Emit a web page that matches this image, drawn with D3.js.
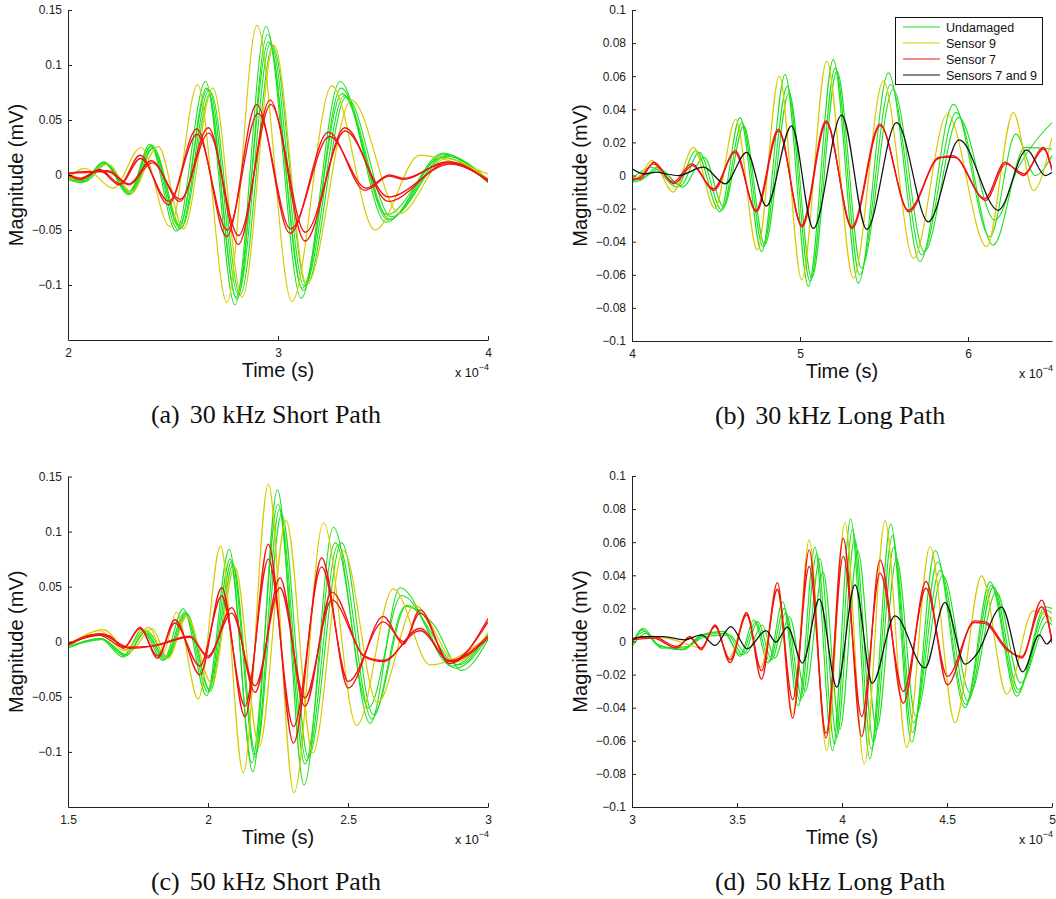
<!DOCTYPE html>
<html>
<head>
<meta charset="utf-8">
<script src="https://cdn.jsdelivr.net/npm/d3@7"></script>
<style>
  body { margin: 0; background: #fff; }
  svg { display: block; }
  .tick text { font-family: "Liberation Sans", Arial, sans-serif; font-size: 12px; fill: #222; }
  .axis path, .axis line { stroke: #222; }
  .lbl { font-family: "Liberation Sans", Arial, sans-serif; fill: #111; }
  .cap { font-family: "Liberation Serif", "Times New Roman", serif; fill: #111; }
</style>
</head>
<body>
<svg id="fig" width="1056" height="899"></svg>
<script>
// Lamb-wave responses: time in units of 1e-4 s, magnitude in mV.
// Each trace is a list of [time, magnitude] turning points of the recorded waveform.

// ---------- (a) 30 kHz short path ----------
const a_undamaged = [
  [[2.0,-0.004],[2.065,-0.007],[2.17,0.012],[2.29,-0.018],[2.39,0.028],[2.515,-0.051],[2.655,0.085],[2.795,-0.118],[2.943,0.135],[3.11,-0.112],[3.295,0.085],[3.515,-0.043],[3.785,0.020],[3.93,0.004],[4.0,-0.007]],
  [[2.0,-0.002],[2.07,-0.006],[2.175,0.011],[2.295,-0.017],[2.395,0.026],[2.525,-0.050],[2.665,0.078],[2.80,-0.111],[2.955,0.121],[3.115,-0.103],[3.305,0.074],[3.525,-0.041],[3.79,0.019],[4.0,-0.005]],
  [[2.0,-0.003],[2.075,-0.005],[2.18,0.010],[2.30,-0.017],[2.40,0.024],[2.535,-0.049],[2.672,0.077],[2.81,-0.108],[2.965,0.120],[3.125,-0.101],[3.315,0.072],[3.53,-0.040],[3.80,0.018],[4.0,-0.004]],
  [[2.0,-0.004],[2.08,-0.006],[2.185,0.010],[2.305,-0.016],[2.405,0.025],[2.54,-0.048],[2.68,0.075],[2.82,-0.109],[2.975,0.117],[3.135,-0.100],[3.325,0.071],[3.54,-0.038],[3.805,0.017],[4.0,-0.006]],
  [[2.0,-0.002],[2.07,-0.004],[2.17,0.011],[2.29,-0.015],[2.40,0.027],[2.53,-0.046],[2.66,0.079],[2.805,-0.113],[2.95,0.128],[3.12,-0.105],[3.30,0.079],[3.52,-0.036],[3.78,0.016],[4.0,-0.005]]
];
const a_sensor9 = [
  [[2.0,-0.003],[2.08,0.006],[2.215,-0.012],[2.348,0.025],[2.486,-0.047],[2.617,0.082],[2.757,-0.116],[2.90,0.136],[3.066,-0.115],[3.256,0.081],[3.462,-0.050],[3.676,0.018],[3.85,0.011],[4.0,0.001]],
  [[2.0,-0.004],[2.09,-0.001],[2.19,0.010],[2.30,-0.016],[2.43,0.026],[2.55,-0.049],[2.69,0.079],[2.83,-0.111],[2.981,0.118],[3.137,-0.099],[3.35,0.068],[3.58,-0.035],[3.80,0.015],[4.0,-0.004]]
];
const a_sensor7 = [
  [[2.0,0.000],[2.06,-0.004],[2.15,0.004],[2.245,-0.009],[2.343,0.018],[2.478,-0.027],[2.613,0.042],[2.756,-0.056],[2.898,0.064],[3.057,-0.053],[3.24,0.039],[3.414,-0.014],[3.53,-0.001],[3.60,-0.004],[3.80,0.012],[4.0,-0.005]],
  [[2.0,0.001],[2.06,-0.003],[2.15,0.005],[2.25,-0.008],[2.345,0.015],[2.48,-0.024],[2.615,0.037],[2.758,-0.050],[2.905,0.056],[3.06,-0.049],[3.245,0.035],[3.42,-0.012],[3.53,0.000],[3.60,-0.003],[3.80,0.011],[4.0,-0.004]],
  [[2.0,0.002],[2.07,0.002],[2.19,0.004],[2.29,-0.008],[2.398,0.013],[2.533,-0.024],[2.668,0.043],[2.811,-0.063],[2.962,0.068],[3.129,-0.060],[3.319,0.043],[3.525,-0.024],[3.82,0.012],[4.0,-0.006]],
  [[2.0,0.001],[2.07,0.003],[2.19,0.003],[2.29,-0.009],[2.40,0.011],[2.535,-0.022],[2.67,0.038],[2.812,-0.055],[2.966,0.064],[3.13,-0.052],[3.32,0.040],[3.525,-0.020],[3.82,0.010],[4.0,-0.005]]
];

// ---------- (b) 30 kHz long path ----------
const b_undamaged = [
  [[4.0,-0.002],[4.12,0.005],[4.266,-0.007],[4.38,0.015],[4.524,-0.022],[4.643,0.035],[4.772,-0.046],[4.911,0.061],[5.05,-0.067],[5.198,0.070],[5.347,-0.065],[5.526,0.062],[5.714,-0.052],[5.913,0.043],[6.13,-0.037],[6.285,0.025],[6.40,0.000],[6.5,0.012]],
  [[4.0,-0.004],[4.05,-0.003],[4.15,0.005],[4.29,-0.006],[4.40,0.014],[4.535,-0.021],[4.655,0.032],[4.78,-0.043],[4.925,0.054],[5.06,-0.064],[5.21,0.065],[5.355,-0.060],[5.54,0.055],[5.725,-0.048],[5.93,0.038],[6.15,-0.042],[6.34,0.017],[6.5,0.016]],
  [[4.0,-0.003],[4.06,-0.002],[4.16,0.004],[4.30,-0.007],[4.43,0.011],[4.545,-0.019],[4.665,0.030],[4.79,-0.042],[4.935,0.050],[5.07,-0.062],[5.22,0.063],[5.365,-0.056],[5.555,0.052],[5.74,-0.046],[5.945,0.035],[6.16,-0.027],[6.30,0.005],[6.5,0.032]]
];
const b_sensor9 = [
  [[4.0,-0.002],[4.05,0.000],[4.117,0.009],[4.246,-0.010],[4.365,0.017],[4.494,-0.020],[4.617,0.034],[4.746,-0.045],[4.877,0.060],[5.01,-0.063],[5.159,0.069],[5.317,-0.062],[5.496,0.057],[5.675,-0.050],[5.877,0.037],[6.111,-0.043],[6.27,0.038],[6.389,-0.009],[6.5,0.023]]
];
const b_sensor7 = [
  [[4.0,-0.003],[4.05,-0.001],[4.127,0.007],[4.246,-0.004],[4.355,0.007],[4.484,-0.008],[4.613,0.014],[4.738,-0.021],[4.871,0.028],[5.01,-0.030],[5.155,0.033],[5.308,-0.031],[5.476,0.031],[5.645,-0.021],[5.82,0.010],[5.91,0.012],[6.10,-0.014],[6.22,0.008],[6.33,0.000],[6.448,0.017],[6.5,0.003]],
  [[4.0,-0.002],[4.05,-0.002],[4.13,0.008],[4.25,-0.005],[4.36,0.006],[4.488,-0.009],[4.615,0.015],[4.74,-0.022],[4.873,0.027],[5.012,-0.031],[5.157,0.032],[5.31,-0.032],[5.478,0.030],[5.648,-0.022],[5.83,0.011],[5.92,0.011],[6.105,-0.015],[6.225,0.007],[6.335,0.001],[6.45,0.016],[6.5,0.004]]
];
const b_sensors7and9 = [
  [[4.0,0.004],[4.07,0.001],[4.15,0.002],[4.20,0.001],[4.276,0.000],[4.425,0.005],[4.554,-0.005],[4.683,0.014],[4.80,-0.0185],[4.95,0.030],[5.079,-0.032],[5.248,0.0365],[5.397,-0.0325],[5.575,0.032],[5.764,-0.028],[5.948,0.0215],[6.18,-0.021],[6.35,0.0155],[6.46,0.000],[6.5,0.002]]
];

// ---------- (c) 50 kHz short path ----------
const c_undamaged = [
  [[1.5,-0.005],[1.614,0.003],[1.698,-0.014],[1.763,0.011],[1.84,-0.017],[1.912,0.030],[1.995,-0.049],[2.076,0.084],[2.16,-0.118],[2.248,0.138],[2.343,-0.130],[2.448,0.104],[2.579,-0.074],[2.686,0.049],[2.87,-0.022],[3.0,0.006]],
  [[1.5,-0.004],[1.62,0.002],[1.70,-0.012],[1.77,0.010],[1.845,-0.016],[1.918,0.027],[2.0,-0.046],[2.079,0.075],[2.156,-0.110],[2.25,0.125],[2.346,-0.111],[2.454,0.090],[2.573,-0.060],[2.692,0.042],[2.885,-0.024],[3.0,0.004]],
  [[1.5,-0.006],[1.62,0.003],[1.705,-0.013],[1.775,0.009],[1.85,-0.015],[1.922,0.026],[2.005,-0.043],[2.085,0.073],[2.168,-0.105],[2.255,0.120],[2.352,-0.108],[2.465,0.088],[2.585,-0.070],[2.704,0.032],[2.805,0.016],[2.906,-0.026],[3.0,0.002]],
  [[1.5,-0.005],[1.625,0.002],[1.71,-0.012],[1.78,0.010],[1.855,-0.014],[1.925,0.025],[2.008,-0.045],[2.09,0.070],[2.17,-0.102],[2.263,0.116],[2.358,-0.105],[2.477,0.090],[2.59,-0.066],[2.71,0.033],[2.895,-0.021],[3.0,0.008]]
];
const c_sensor9 = [
  [[1.5,-0.004],[1.615,0.010],[1.70,-0.008],[1.79,0.013],[1.84,-0.010],[1.888,0.027],[1.965,-0.052],[2.045,0.087],[2.126,-0.119],[2.2155,0.143],[2.307,-0.137],[2.412,0.108],[2.531,-0.076],[2.662,0.048],[2.793,-0.021],[3.0,0.004]],
  [[1.5,-0.005],[1.626,0.011],[1.72,-0.009],[1.80,0.012],[1.858,-0.015],[1.924,0.023],[2.013,-0.038],[2.096,0.068],[2.183,-0.095],[2.279,0.110],[2.374,-0.101],[2.483,0.083],[2.605,-0.055],[2.739,0.033],[2.888,-0.018],[3.0,0.008]]
];
const c_sensor7 = [
  [[1.5,-0.002],[1.61,0.007],[1.65,0.005],[1.698,-0.006],[1.757,0.013],[1.82,-0.015],[1.882,0.020],[1.971,-0.030],[2.049,0.049],[2.132,-0.068],[2.2155,0.0885],[2.305,-0.092],[2.406,0.076],[2.501,-0.042],[2.626,0.023],[2.698,-0.002],[2.757,0.029],[2.864,-0.020],[3.0,0.021]],
  [[1.5,-0.003],[1.61,0.006],[1.70,-0.005],[1.757,0.012],[1.82,-0.013],[1.882,0.017],[1.971,-0.022],[2.049,0.0415],[2.132,-0.0585],[2.2155,0.075],[2.305,-0.077],[2.406,0.068],[2.501,-0.036],[2.626,0.018],[2.70,0.000],[2.757,0.026],[2.864,-0.018],[3.0,0.018]],
  [[1.5,-0.003],[1.62,0.007],[1.72,-0.006],[1.80,-0.004],[1.936,0.005],[2.0,-0.0145],[2.085,0.031],[2.168,-0.046],[2.257,0.058],[2.346,-0.0585],[2.442,0.045],[2.56,-0.014],[2.626,-0.018],[2.757,0.012],[2.864,-0.018],[3.0,0.003]],
  [[1.5,-0.002],[1.62,0.006],[1.72,-0.005],[1.80,-0.004],[1.936,0.004],[2.0,-0.013],[2.085,0.026],[2.168,-0.040],[2.257,0.049],[2.346,-0.051],[2.442,0.038],[2.56,-0.013],[2.626,-0.017],[2.757,0.010],[2.864,-0.017],[3.0,0.005]]
];

// ---------- (d) 50 kHz long path ----------
const d_undamaged = [
  [[3.0,-0.002],[3.054,0.008],[3.125,-0.002],[3.244,-0.005],[3.33,0.003],[3.44,0.006],[3.514,-0.009],[3.58,0.013],[3.649,-0.013],[3.718,0.024],[3.792,-0.039],[3.871,0.057],[3.955,-0.066],[4.041,0.074],[4.133,-0.071],[4.232,0.071],[4.332,-0.061],[4.443,0.055],[4.586,-0.040],[4.705,0.036],[4.832,-0.033],[4.967,0.021],[5.0,0.020]],
  [[3.0,0.000],[3.06,0.006],[3.13,-0.003],[3.25,-0.004],[3.34,0.004],[3.45,0.005],[3.53,-0.008],[3.60,0.012],[3.665,-0.011],[3.733,0.0175],[3.81,-0.034],[3.895,0.050],[3.975,-0.058],[4.06,0.062],[4.15,-0.061],[4.247,0.057],[4.34,-0.049],[4.467,0.043],[4.60,-0.036],[4.721,0.033],[4.84,-0.029],[4.975,0.016],[5.0,0.012]],
  [[3.0,-0.003],[3.07,0.005],[3.14,-0.004],[3.26,-0.003],[3.35,0.003],[3.46,0.004],[3.545,-0.007],[3.62,0.010],[3.68,-0.010],[3.75,0.015],[3.825,-0.030],[3.91,0.042],[3.99,-0.053],[4.075,0.055],[4.165,-0.053],[4.26,0.050],[4.35,-0.045],[4.48,0.040],[4.61,-0.031],[4.735,0.030],[4.85,-0.025],[4.98,0.012],[5.0,0.010]],
  [[3.0,-0.001],[3.05,0.007],[3.12,-0.002],[3.24,-0.005],[3.33,0.004],[3.43,0.006],[3.52,-0.008],[3.59,0.012],[3.655,-0.012],[3.725,0.020],[3.80,-0.036],[3.88,0.053],[3.965,-0.062],[4.05,0.068],[4.14,-0.065],[4.24,0.064],[4.335,-0.055],[4.455,0.048],[4.59,-0.038],[4.712,0.034],[4.835,-0.031],[4.97,0.019],[5.0,0.017]]
];
const d_sensor9 = [
  [[3.0,0.001],[3.1,0.003],[3.2,0.001],[3.27,-0.002],[3.33,-0.004],[3.395,0.0095],[3.463,-0.0097],[3.546,0.0165],[3.613,-0.0157],[3.692,0.0306],[3.765,-0.044],[3.844,0.0614],[3.927,-0.066],[4.014,0.0719],[4.106,-0.074],[4.205,0.0729],[4.308,-0.064],[4.419,0.0574],[4.538,-0.049],[4.665,0.0397],[4.784,-0.0318],[4.911,0.0185],[5.0,0.014]]
];
const d_sensor7 = [
  [[3.0,0.001],[3.1,0.002],[3.213,-0.004],[3.276,0.003],[3.33,-0.005],[3.395,0.010],[3.467,-0.0127],[3.546,0.0175],[3.617,-0.0228],[3.692,0.0356],[3.765,-0.0463],[3.844,0.0554],[3.924,-0.0584],[4.006,0.0624],[4.094,-0.0574],[4.181,0.0493],[4.292,-0.0373],[4.40,0.0363],[4.502,-0.0262],[4.63,0.0125],[4.68,0.012],[4.784,-0.004],[4.856,-0.010],[4.951,0.025],[5.0,-0.001]],
  [[3.0,0.002],[3.1,0.003],[3.213,-0.003],[3.276,0.002],[3.33,-0.004],[3.395,0.009],[3.467,-0.011],[3.546,0.016],[3.617,-0.0177],[3.692,0.0316],[3.765,-0.0352],[3.844,0.0453],[3.924,-0.0554],[4.006,0.0514],[4.094,-0.0453],[4.181,0.0413],[4.292,-0.0302],[4.40,0.0322],[4.502,-0.0211],[4.63,0.0115],[4.68,0.011],[4.784,-0.005],[4.856,-0.009],[4.951,0.021],[5.0,0.001]]
];
const d_sensors7and9 = [
  [[3.0,0.001],[3.05,0.003],[3.15,0.003],[3.25,0.001],[3.33,0.004],[3.395,-0.0024],[3.471,0.009],[3.549,-0.0044],[3.638,0.0066],[3.685,-0.0004],[3.74,0.0087],[3.812,-0.013],[3.892,0.0256],[3.975,-0.0276],[4.062,0.0342],[4.144,-0.0252],[4.252,0.0155],[4.395,-0.0160],[4.49,0.0236],[4.586,-0.0137],[4.641,-0.0077],[4.76,0.0208],[4.86,-0.0183],[4.94,0.004],[4.975,-0.0015],[5.0,0.002]]
];

// ---------- tick values ----------
const xTicksA = [2, 3, 4];
const xTicksB = [4, 5, 6];
const xTicksC = [1.5, 2, 2.5, 3];
const xTicksD = [3, 3.5, 4, 4.5, 5];
const yTicksShort = [-0.1, -0.05, 0, 0.05, 0.1, 0.15];
const yTicksLong = [-0.1, -0.08, -0.06, -0.04, -0.02, 0, 0.02, 0.04, 0.06, 0.08, 0.1];

const legendLabels = ["Undamaged", "Sensor 9", "Sensor 7", "Sensors 7 and 9"];
const seriesColors = ["#1ee01e", "#d8cb00", "#f21414", "#111111"];

const panels = [
  { x: [2, 4],   y: [-0.15, 0.15], xt: xTicksA, yt: yTicksShort, l: 68,  r: 488,  t: 10,  b: 340,
    series: [a_undamaged, a_sensor9, a_sensor7, []], caption: ["(a)", "30 kHz Short Path"], legend: false },
  { x: [4, 6.5], y: [-0.1, 0.1],   xt: xTicksB, yt: yTicksLong,  l: 632, r: 1052, t: 10,  b: 341,
    series: [b_undamaged, b_sensor9, b_sensor7, b_sensors7and9], caption: ["(b)", "30 kHz Long Path"], legend: true },
  { x: [1.5, 3], y: [-0.15, 0.15], xt: xTicksC, yt: yTicksShort, l: 68,  r: 488,  t: 476.5, b: 807,
    series: [c_undamaged, c_sensor9, c_sensor7, []], caption: ["(c)", "50 kHz Short Path"], legend: false },
  { x: [3, 5],   y: [-0.1, 0.1],   xt: xTicksD, yt: yTicksLong,  l: 632, r: 1052, t: 476, b: 807,
    series: [d_undamaged, d_sensor9, d_sensor7, d_sensors7and9], caption: ["(d)", "50 kHz Long Path"], legend: false }
];

const fmt = d => d === 0 ? "0" : (d < 0 ? "\u2212" : "") + String(Math.abs(d));
const svg = d3.select("#fig");

panels.forEach((p, i) => {
  const x = d3.scaleLinear().domain(p.x).range([p.l, p.r]);
  const y = d3.scaleLinear().domain(p.y).range([p.b, p.t]);
  const g = svg.append("g");

  g.append("clipPath").attr("id", "clip" + i)
    .append("rect").attr("x", p.l).attr("y", p.t).attr("width", p.r - p.l).attr("height", p.b - p.t);

  const line = d3.line().x(d => x(d[0])).y(d => y(d[1])).curve(d3.curveMonotoneX);
  const plot = g.append("g").attr("clip-path", `url(#clip${i})`);
  const widths = [1.1, 1.2, 1.35, 1.25];
  p.series.forEach((group, k) => {
    group.forEach(trace => {
      plot.append("path").datum(trace)
        .attr("d", line).attr("fill", "none")
        .attr("stroke", seriesColors[k]).attr("stroke-width", widths[k])
        .attr("stroke-linejoin", "round");
    });
  });

  g.append("g").attr("class", "axis").attr("transform", `translate(0,${p.b})`)
    .call(d3.axisBottom(x).tickValues(p.xt).tickSize(-4).tickSizeOuter(0).tickPadding(8).tickFormat(fmt));
  g.append("g").attr("class", "axis").attr("transform", `translate(${p.l},0)`)
    .call(d3.axisLeft(y).tickValues(p.yt).tickSize(-4).tickSizeOuter(0).tickPadding(6).tickFormat(fmt));

  const cx = (p.l + p.r) / 2;
  g.append("text").attr("class", "lbl").attr("x", cx).attr("y", p.b + 37)
    .attr("text-anchor", "middle").attr("font-size", 20).text("Time (s)");

  const ex = g.append("text").attr("class", "lbl").attr("x", p.r + 1).attr("y", p.b + 37)
    .attr("text-anchor", "end").attr("font-size", 12.5);
  ex.append("tspan").text("x 10");
  ex.append("tspan").attr("dy", -7).attr("font-size", 9).text("\u22124");

  const ym = (p.t + p.b) / 2;
  g.append("text").attr("class", "lbl")
    .attr("transform", `translate(${p.l - 45},${ym}) rotate(-90)`)
    .attr("text-anchor", "middle").attr("font-size", 20).text("Magnitude (mV)");

  const cap = g.append("text").attr("class", "cap")
    .attr("x", cx - 12).attr("y", p.b + 83).attr("text-anchor", "middle").attr("font-size", 26);
  cap.append("tspan").text(p.caption[0]);
  cap.append("tspan").attr("dx", 10).text(p.caption[1]);

  if (p.legend) {
    const lg = g.append("g");
    lg.append("rect").attr("x", 895.5).attr("y", 17.5).attr("width", 147).attr("height", 67)
      .attr("fill", "#fff").attr("stroke", "#111").attr("stroke-width", 1);
    legendLabels.forEach((lab, k) => {
      const yy = 27 + k * 16;
      lg.append("line").attr("x1", 903).attr("x2", 940).attr("y1", yy).attr("y2", yy)
        .attr("stroke", seriesColors[k]).attr("stroke-width", 1.1);
      lg.append("text").attr("class", "lbl").attr("x", 946).attr("y", yy + 4.5)
        .attr("font-size", 12.5).text(lab);
    });
  }
});
</script>
</body>
</html>
